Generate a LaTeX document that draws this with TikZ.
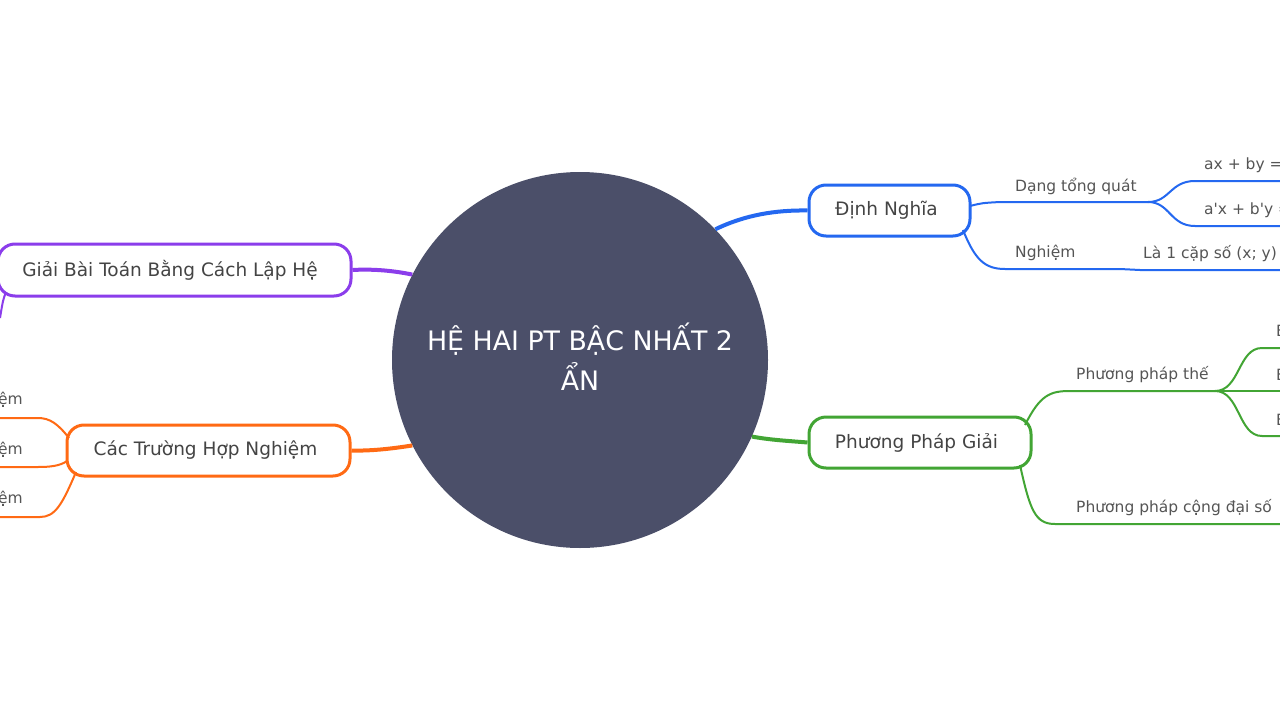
\documentclass[tikz,border=0pt]{standalone}
\usepackage{fontspec}
\setmainfont{DejaVu Sans}
\newfontfamily\rawfont{DejaVu Sans}[Ligatures=TeXOff]
\definecolor{cblue}{HTML}{2468F0}
\definecolor{cgreen}{HTML}{42A534}
\definecolor{corange}{HTML}{FF6A14}
\definecolor{cpurple}{HTML}{8B3DEB}
\definecolor{ccenter}{HTML}{4B4F69}
\definecolor{ctext}{HTML}{444444}
\definecolor{csub}{HTML}{555555}
\begin{document}
\begin{tikzpicture}[x=1pt,y=-1pt,
  mainbox/.style={draw, line width=3pt, rounded corners=17pt, fill=white, text=ctext,
    font=\fontsize{18.5}{21}\selectfont, minimum height=51pt, inner sep=0pt},
  mainline/.style={line width=4pt},
  subline/.style={line width=2pt},
  sublabel/.style={text=csub, font=\fontsize{15.5}{18}\selectfont, anchor=west, inner sep=0pt},
  leftlabel/.style={sublabel, anchor=east}]
\clip (0,0) rectangle (1280,720);
\fill[white] (0,0) rectangle (1280,720);

% central node
\node[circle, fill=ccenter, minimum size=376pt, inner sep=0pt] (c) at (580,360) {};
\node[text=white, align=center, inner sep=0pt,
  font=\fontsize{26.8}{40}\selectfont] (ct) at ([yshift=3pt]c.center) {HỆ HAI PT BẬC NHẤT 2\\ẨN};

% main boxes
\node[mainbox, draw=cblue, minimum width=161pt] (dn) at (889.5,210.5) {\hspace*{-6pt}Định Nghĩa};
\node[mainbox, draw=cgreen, minimum width=222pt] (pg) at (920,442.5) {\hspace*{-7pt}Phương Pháp Giải};
\node[mainbox, draw=corange, minimum width=283pt] (oc) at (208.5,450.5) {\hspace*{-6pt}Các Trường Hợp Nghiệm};
\node[mainbox, draw=cpurple, minimum width=353pt, minimum height=52pt] (gb) at (174.5,270) {\hspace*{-9pt}Giải Bài Toán Bằng Cách Lập Hệ};

% main connectors
\draw[mainline, cblue] (c.44) .. controls (745,215) and (775,210) .. (dn.west);
\draw[mainline, cgreen] (c.-24) .. controls (770,440) and (790,441) .. (pg.west);
\draw[mainline, corange] (c.207) .. controls (390,449) and (370,451) .. (oc.east);
\draw[mainline, cpurple] (c.153) .. controls (390,270) and (370,269) .. (gb.east);

% blue branch
\coordinate (bdn1) at (970,206);
\coordinate (bb) at (1148,202);
\coordinate (be1) at (1280,181);
\coordinate (be2) at (1280,226);
\coordinate (bdn2) at (963,230);
\coordinate (be3) at (1280,270);
\draw[subline, cblue] (bdn1) .. controls (982,203) .. (1000,202) -- (bb);
\draw[subline, cblue] (bb) .. controls (1170,202) and (1170,181) .. (1195,181) -- (be1);
\draw[subline, cblue] (bb) .. controls (1170,202) and (1170,226) .. (1195,226) -- (be2);
\draw[subline, cblue] (bdn2) .. controls (975,260) and (985,269) .. (1005,269) -- (1120,269) .. controls (1130,269) .. (1140,270) -- (be3);
\node[sublabel] (t1) at (1015,186) {Dạng tổng quát};
\node[sublabel] (t2) at (1204,165) {ax + by =};
\node[sublabel] (t3) at (1204,210) {\rawfont a'x + b'y =};
\node[sublabel] (t4) at (1015,253) {Nghiệm};
\node[sublabel] (t5) at (1143,254) {Là 1 cặp số (x; y)};

% green branch
\coordinate (gs1) at (1025,425);
\coordinate (gb1) at (1215,391);
\coordinate (ge1) at (1280,348);
\coordinate (ge2) at (1280,391);
\coordinate (ge3) at (1280,436);
\coordinate (gs2) at (1020,465);
\coordinate (ge4) at (1280,524);
\draw[subline, cgreen] (gs1) .. controls (1040,395) and (1050,391) .. (1070,391) -- (gb1);
\draw[subline, cgreen] (gb1) .. controls (1240,391) and (1238,348) .. (1262,348) -- (ge1);
\draw[subline, cgreen] (gb1) -- (ge2);
\draw[subline, cgreen] (gb1) .. controls (1240,391) and (1238,436) .. (1262,436) -- (ge3);
\draw[subline, cgreen] (gs2) .. controls (1030,510) and (1035,524) .. (1055,524) -- (ge4);
\node[sublabel] (t6) at (1076,375) {Phương pháp thế};
\node[sublabel] (t7) at (1276,331) {B};
\node[sublabel] (t8) at (1276,375) {B};
\node[sublabel] (t9) at (1276,420) {B};
\node[sublabel] (t10) at (1076,508) {Phương pháp cộng đại số};

% orange branch
\coordinate (os1) at (69,438);
\coordinate (oe1) at (0,418);
\coordinate (os2) at (67,461);
\coordinate (oe2) at (0,467);
\coordinate (os3) at (76,472);
\coordinate (oe3) at (0,517);
\draw[subline, corange] (os1) .. controls (58,424) and (50,418) .. (38,418) -- (oe1);
\draw[subline, corange] (os2) .. controls (60,466) and (50,467) .. (38,467) -- (oe2);
\draw[subline, corange] (os3) .. controls (62,505) and (55,517) .. (40,517) -- (oe3);
\node[leftlabel] (l1) at (23,400) {nghiệm};
\node[leftlabel] (l2) at (23,450) {nghiệm};
\node[leftlabel] (l3) at (23,499) {nghiệm};

% purple branch
\coordinate (ps1) at (6,292);
\coordinate (pe1) at (0,318);
\draw[subline, cpurple] (ps1) .. controls (3,300) .. (pe1);
\end{tikzpicture}
\end{document}
